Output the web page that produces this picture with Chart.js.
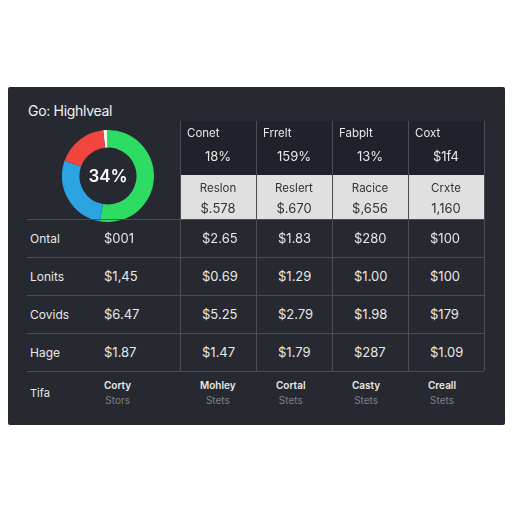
<!DOCTYPE html>
<html>
<head>
<meta charset="utf-8">
<script src="https://cdn.jsdelivr.net/npm/chart.js@4"></script>
<style>
  body { margin: 0; background: #fff; font-family: Inter, "Noto Sans", sans-serif; }
  .panel { position: absolute; left: 8px; top: 87px; width: 497px; height: 338px; background: #262930; border-radius: 2px; }
  .title { position: absolute; left: 28px; top: 102px; color: #f2f2f2; font-size: 14px; letter-spacing: -0.3px; }
  .pie { position: absolute; left: 62px; top: 130px; width: 92px; height: 92px; }
  .center { position: absolute; left: 62px; top: 130px; width: 92px; height: 92px; line-height: 92px; text-align: center; color: #fff; font-size: 17px; font-weight: 600; }
  .cell { position: absolute; box-sizing: border-box; color: #e8e8e8; font-size: 13px; }
  .hdr { background: #1f222a; }
  .light { background: #e0e0e0; color: #333; text-align: center; font-size: 11.5px; line-height: 20px; padding-top: 3px; }
  .vl { position: absolute; width: 1px; background: #4a4d55; }
  .hl { position: absolute; height: 1px; background: #4a4d55; }
</style>
</head>
<body>
<div class="panel"></div>
<div class="title">Go: Highlveal</div>
<div class="pie"><canvas id="pie" width="92" height="92"></canvas></div>
<div class="center">34%</div>
<div id="table"></div>
<script>
const sliceLabels = ['Spare', 'Green', 'Blue', 'Red'];
const sliceValues = [1.5, 53, 27.5, 18];
const sliceColors = ['#f2f2f2', '#2fdc63', '#2ba3e0', '#f1453d'];

const headTitles = ['Conet', 'Frrelt', 'Fabplt', 'Coxt'];
const headValues = ['18%', '159%', '13%', '$1f4'];
const lightTitles = ['Reslon', 'Reslert', 'Racice', 'Crxte'];
const lightValues = ['$.578', '$.670', '$,656', '1,160'];
const rowLabels = ['Ontal', 'Lonits', 'Covids', 'Hage'];
const rowValues = [
  ['$001', '$2.65', '$1.83', '$280', '$100'],
  ['$1,45', '$0.69', '$1.29', '$1.00', '$100'],
  ['$6.47', '$5.25', '$2.79', '$1.98', '$179'],
  ['$1.87', '$1.47', '$1.79', '$287', '$1.09'],
];
const footLabel = 'Tifa';
const footTitles = ['Corty', 'Mohley', 'Cortal', 'Casty', 'Creall'];
const footSubs = ['Stors', 'Stets', 'Stets', 'Stets', 'Stets'];

new Chart(document.getElementById('pie'), {
  type: 'doughnut',
  data: {
    labels: sliceLabels,
    datasets: [{ data: sliceValues, backgroundColor: sliceColors, borderWidth: 0 }],
  },
  options: {
    responsive: false,
    cutout: '62%',
    rotation: -6,
    animation: false,
    plugins: { legend: { display: false }, tooltip: { enabled: false } },
  },
});

// table
const t = document.getElementById('table');
const cols = [180, 256, 332, 408, 484];
const valX = [104, 180, 256, 332, 408];
function add(html) { t.insertAdjacentHTML('beforeend', html); }

headTitles.forEach((h, i) => {
  add(`<div class="cell hdr" style="left:${cols[i]}px;top:121px;width:76px;height:54px;padding:5px 0 0 7px;font-size:11.5px">${h}
    <div style="text-align:center;margin-top:8px;padding-right:7px;font-size:13px">${headValues[i]}</div></div>`);
  add(`<div class="cell light" style="left:${cols[i]}px;top:175px;width:76px;height:44px">${lightTitles[i]}<br><span style="font-size:13px">${lightValues[i]}</span></div>`);
});

rowLabels.forEach((lab, r) => {
  const y = 219 + r * 38;
  add(`<div class="cell" style="left:30px;top:${y + 12}px;font-size:12px">${lab}</div>`);
  rowValues[r].forEach((v, c) => {
    const x = c === 0 ? 104 : valX[c] + 22;
    add(`<div class="cell" style="left:${x}px;top:${y + 11}px">${v}</div>`);
  });
});
add(`<div class="cell" style="left:30px;top:386px;font-size:11px">${footLabel}</div>`);
footTitles.forEach((f, c) => {
  const x = c === 0 ? 104 : valX[c] + 20;
  add(`<div class="cell" style="left:${x}px;top:379px;font-size:10px;font-weight:600;text-align:center">${f}<div style="color:#7d8088;font-weight:400;margin-top:3px">${footSubs[c]}</div></div>`);
});

// grid lines
[180, 256, 332, 408, 484].forEach((x) => add(`<div class="vl" style="left:${x}px;top:121px;height:250px"></div>`));
[219, 257, 295, 333, 371].forEach((y) => add(`<div class="hl" style="left:27px;top:${y}px;width:457px"></div>`));
</script>
</body>
</html>
